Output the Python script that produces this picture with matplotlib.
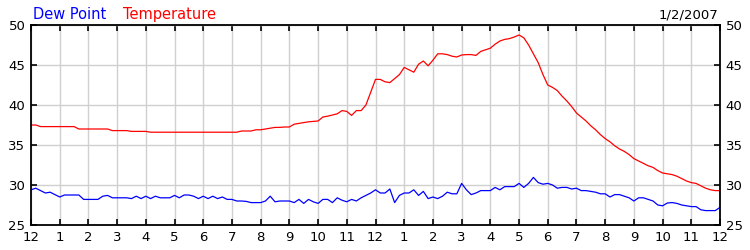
import matplotlib.pyplot as plt
import numpy as np

# readings every 10 minutes, midnight to midnight
temperature = [
    37.5, 37.5, 37.3, 37.3, 37.3, 37.3,
    37.3, 37.3, 37.3, 37.3, 37.0, 37.0,
    37.0, 37.0, 37.0, 37.0, 37.0, 36.8,
    36.8, 36.8, 36.8, 36.7, 36.7, 36.7,
    36.7, 36.6, 36.6, 36.6, 36.6, 36.6,
    36.6, 36.6, 36.6, 36.6, 36.6, 36.6,
    36.6, 36.6, 36.6, 36.6, 36.6, 36.6,
    36.6, 36.6, 36.75, 36.75, 36.75, 36.9,
    36.9, 37.0, 37.1, 37.2, 37.2, 37.25,
    37.25, 37.6, 37.7, 37.8, 37.9, 37.95,
    38.0, 38.5, 38.6, 38.75, 38.9, 39.3,
    39.2, 38.7, 39.3, 39.3, 40.0, 41.6,
    43.2, 43.2, 42.9, 42.8, 43.3, 43.8,
    44.7, 44.4, 44.1, 45.1, 45.5, 44.9,
    45.6, 46.4, 46.4, 46.3, 46.1, 46.0,
    46.25, 46.3, 46.3, 46.2, 46.7, 46.9,
    47.1, 47.6, 48.0, 48.2, 48.3, 48.5,
    48.75, 48.4, 47.5, 46.4, 45.3, 43.8,
    42.5, 42.2, 41.8, 41.1, 40.5, 39.8,
    39.0, 38.5, 38.0, 37.4, 36.9, 36.3,
    35.8, 35.4, 34.9, 34.5, 34.2, 33.8,
    33.3, 33.0, 32.7, 32.4, 32.2, 31.8,
    31.5, 31.4, 31.3, 31.1, 30.8, 30.5,
    30.3, 30.2, 29.9, 29.6, 29.4, 29.3,
    29.3,
]

dew_point = [
    29.4, 29.6, 29.3, 29.0, 29.1, 28.8,
    28.5, 28.75, 28.75, 28.75, 28.75, 28.2,
    28.2, 28.2, 28.2, 28.6, 28.7, 28.4,
    28.4, 28.4, 28.4, 28.3, 28.6, 28.3,
    28.6, 28.3, 28.6, 28.4, 28.4, 28.4,
    28.7, 28.4, 28.75, 28.75, 28.6, 28.3,
    28.6, 28.3, 28.6, 28.3, 28.5, 28.2,
    28.2, 28.0, 28.0, 27.95, 27.8, 27.8,
    27.8, 28.0, 28.6, 27.9, 28.0, 28.0,
    28.0, 27.8, 28.2, 27.7, 28.2, 27.9,
    27.7, 28.2, 28.2, 27.8, 28.4, 28.1,
    27.9, 28.2, 28.0, 28.4, 28.7, 29.0,
    29.4, 29.0, 29.0, 29.5, 27.8, 28.7,
    29.0, 29.0, 29.4, 28.7, 29.2, 28.3,
    28.5, 28.3, 28.6, 29.1, 28.9, 28.9,
    30.2, 29.4, 28.8, 29.0, 29.3, 29.3,
    29.3, 29.7, 29.4, 29.8, 29.8, 29.8,
    30.2, 29.7, 30.2, 30.95, 30.3, 30.1,
    30.2, 30.0, 29.6, 29.7, 29.7, 29.5,
    29.6, 29.3, 29.3, 29.2, 29.1, 28.9,
    28.9, 28.5, 28.8, 28.8, 28.6, 28.4,
    28.0, 28.4, 28.4, 28.2, 28.0, 27.5,
    27.4, 27.75, 27.8, 27.7, 27.5, 27.4,
    27.3, 27.3, 26.9, 26.8, 26.8, 26.8,
    27.2,
]

hour_labels = ["12", "1", "2", "3", "4", "5", "6", "7", "8", "9", "10", "11",
               "12", "1", "2", "3", "4", "5", "6", "7", "8", "9", "10", "11", "12"]
y_ticks = [25, 30, 35, 40, 45, 50]
date_text = "1/2/2007"

hours = np.arange(len(temperature)) / 6.0

fig = plt.figure(figsize=(7.5, 2.5), dpi=100)
ax = fig.add_axes([31 / 750, 25 / 250, 689 / 750, 200 / 250])

ax.plot(hours, temperature, color="#ff0000", lw=0.9)
ax.plot(hours, dew_point, color="#0000ff", lw=0.9)

ax.set_xlim(0, 24)
ax.set_ylim(25, 50)
ax.set_xticks(range(25))
ax.set_xticklabels(hour_labels)
ax.set_yticks(y_ticks)

ax.grid(True, color="#d0d0d0", lw=1)
ax.set_axisbelow(True)
ax.tick_params(direction="in", length=4, width=1.2, top=True, right=True,
               labelright=True, labelsize=9.5, pad=4)
for spine in ax.spines.values():
    spine.set_linewidth(1.3)

fig.text(33 / 750, 1 - 19 / 250, "Dew Point", color="#0000ff", fontsize=10.5)
fig.text(123 / 750, 1 - 19 / 250, "Temperature", color="#ff0000", fontsize=10.5)
fig.text(718 / 750, 1 - 18 / 250, date_text, color="black", fontsize=9.5, ha="right")

fig.savefig("out.png", dpi=100)
